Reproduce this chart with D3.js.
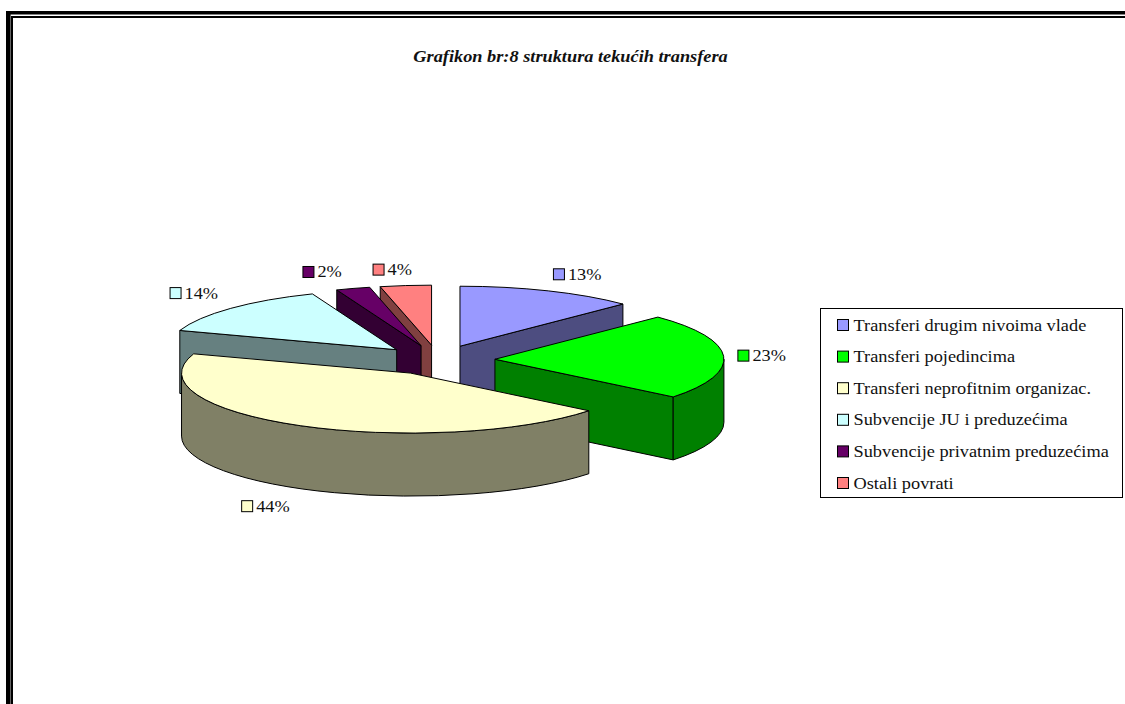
<!DOCTYPE html>
<html>
<head>
<meta charset="utf-8">
<script src="https://cdnjs.cloudflare.com/ajax/libs/d3/7.8.5/d3.min.js"></script>
<style>
  html, body { margin: 0; padding: 0; background: #fff; overflow: hidden; }
  text { font-family: "Liberation Serif", serif; fill: #111; }
</style>
</head>
<body>
<svg id="chart" width="1125" height="704"></svg>
<script>
const title = "Grafikon br:8 struktura tekućih transfera";
const categories = [
  "Transferi drugim nivoima vlade",
  "Transferi pojedincima",
  "Transferi neprofitnim organizac.",
  "Subvencije JU i preduzećima",
  "Subvencije privatnim preduzećima",
  "Ostali povrati"
];
const values = [12.6, 23.2, 44.4, 13.8, 2.4, 3.6];
const topColors = ["#9999ff", "#00ff00", "#ffffcc", "#ccffff", "#660066", "#ff8080"];

// layout
const cx = 438, cy = 360, rx = 229, ry = 60, depth = 63, explode = 57;
const labelFactor = 1.2;
const labelNudge = [[7, -5.5], [-12, 0], [-17, 7], [-8, -7], [-17, -5], [-8, -4]];
const drawOrder = [0, 5, 4, 3, 1, 2];
// the reference text is stretched sideways
const fontSize = 17.5, stretch = 1.047;

const svg = d3.select("#chart");

// page border
const border = svg.append("g").attr("fill", "#000");
border.append("rect").attr("x", 6).attr("y", 11).attr("width", 1119).attr("height", 3.5);
border.append("rect").attr("x", 11).attr("y", 16).attr("width", 1114).attr("height", 2);
border.append("rect").attr("x", 6).attr("y", 11).attr("width", 4.6).attr("height", 693);
border.append("rect").attr("x", 11).attr("y", 16).attr("width", 2).attr("height", 688);

svg.append("text")
  .attr("transform", `translate(570.5,62) scale(${stretch},1)`)
  .attr("text-anchor", "middle")
  .attr("font-size", fontSize)
  .attr("font-weight", "bold")
  .attr("font-style", "italic")
  .text(title);

const pie = d3.pie().sort(null).value(d => d);
const slices = pie(values).map((s, i) => {
  const mid = (s.startAngle + s.endAngle) / 2;
  return {
    ...s,
    i,
    mid,
    ax: cx + explode * Math.sin(mid),
    ay: cy - explode * (ry / rx) * Math.cos(mid)
  };
});

const shade = c => {
  const k = d3.rgb(c);
  return d3.rgb(k.r / 2, k.g / 2, k.b / 2).formatHex();
};
const px = (s, a) => s.ax + rx * Math.sin(a);
const py = (s, a) => s.ay - ry * Math.cos(a);

const arc = d3.arc().innerRadius(0).outerRadius(rx);
const pieG = svg.append("g").attr("stroke", "#000").attr("stroke-width", 1).attr("stroke-linejoin", "round");

// flat wall from the apex out to angle a
function wall(s, a) {
  return `M${s.ax},${s.ay}L${px(s, a)},${py(s, a)}L${px(s, a)},${py(s, a) + depth}L${s.ax},${s.ay + depth}Z`;
}

// outer rim between two angles
function rim(s, a0, a1) {
  return `M${px(s, a0)},${py(s, a0)}A${rx},${ry} 0 0 1 ${px(s, a1)},${py(s, a1)}` +
    `L${px(s, a1)},${py(s, a1) + depth}A${rx},${ry} 0 0 0 ${px(s, a0)},${py(s, a0) + depth}Z`;
}

drawOrder.forEach(i => {
  const s = slices[i];
  const side = shade(topColors[i]);
  const g = pieG.append("g");
  if (Math.sin(s.startAngle) < -1e-6) g.append("path").attr("d", wall(s, s.startAngle)).attr("fill", side);
  if (Math.sin(s.endAngle) > 1e-6) g.append("path").attr("d", wall(s, s.endAngle)).attr("fill", side);
  const r0 = Math.max(s.startAngle, Math.PI / 2), r1 = Math.min(s.endAngle, Math.PI * 1.5);
  if (r1 > r0) g.append("path").attr("d", rim(s, r0, r1)).attr("fill", side);
  g.append("path")
    .attr("transform", `translate(${s.ax},${s.ay}) scale(1,${ry / rx})`)
    .attr("vector-effect", "non-scaling-stroke")
    .attr("d", arc(s))
    .attr("fill", topColors[i]);
});

// percentage labels with their colour key
const fmt = d3.format(".0f");
const labels = svg.append("g").selectAll("g").data(slices).join("g")
  .attr("transform", s => {
    const lift = Math.cos(s.mid) < 0 ? depth : 0;
    const x = s.ax + rx * labelFactor * Math.sin(s.mid) + labelNudge[s.i][0];
    const y = s.ay - ry * labelFactor * Math.cos(s.mid) + lift + labelNudge[s.i][1];
    return `translate(${x},${y})`;
  });
labels.append("rect")
  .attr("x", -19.5).attr("y", -5.5).attr("width", 11).attr("height", 11)
  .attr("fill", s => topColors[s.i]).attr("stroke", "#000");
labels.append("text")
  .attr("transform", `translate(-5,5.5) scale(${stretch},1)`)
  .attr("font-size", fontSize)
  .text(s => fmt(s.data) + "%");

// legend
const legendY = d3.scalePoint().domain(categories).range([325, 483]);
const legend = svg.append("g");
legend.append("rect")
  .attr("x", 820.5).attr("y", 308.5).attr("width", 302).attr("height", 189)
  .attr("fill", "#fff").attr("stroke", "#000");
const rows = legend.selectAll("g").data(categories).join("g")
  .attr("transform", d => `translate(837,${legendY(d)})`);
rows.append("rect")
  .attr("x", 0.5).attr("y", -5.5).attr("width", 11).attr("height", 11)
  .attr("fill", (d, i) => topColors[i]).attr("stroke", "#000");
rows.append("text")
  .attr("transform", `translate(16.5,5.5) scale(${stretch},1)`)
  .attr("font-size", fontSize)
  .text(d => d);
</script>
</body>
</html>
